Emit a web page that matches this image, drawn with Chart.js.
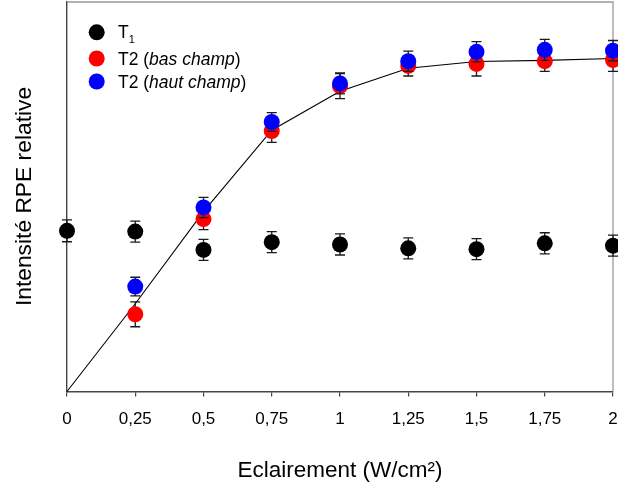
<!DOCTYPE html>
<html>
<head>
<meta charset="utf-8">
<script src="https://cdn.jsdelivr.net/npm/chart.js@4.4.0/dist/chart.umd.min.js"></script>
<style>
html,body{margin:0;padding:0;background:#fff;}
#wrap{width:618px;height:489px;position:relative;}
</style>
</head>
<body>
<div id="wrap"><canvas id="c" width="618" height="489"></canvas></div>
<script>
// ---- data ----
const xValues = [0, 0.25, 0.5, 0.75, 1, 1.25, 1.5, 1.75, 2];
const xTickLabels = ['0', '0,25', '0,5', '0,75', '1', '1,25', '1,5', '1,75', '2'];

const t1Values = [0.412, 0.410, 0.363, 0.383, 0.377, 0.367, 0.365, 0.380, 0.374];
const t1Errors = [0.028, 0.027, 0.027, 0.027, 0.027, 0.027, 0.027, 0.027, 0.027];

const t2LowX = [0.25, 0.5, 0.75, 1, 1.25, 1.5, 1.75, 2];
const t2LowValues = [0.198, 0.442, 0.668, 0.783, 0.835, 0.840, 0.847, 0.850];
const t2LowErrors = [0.032, 0.027, 0.029, 0.032, 0.026, 0.031, 0.026, 0.029];

const t2HighX = [0.25, 0.5, 0.75, 1, 1.25, 1.5, 1.75, 2];
const t2HighValues = [0.269, 0.472, 0.691, 0.790, 0.847, 0.871, 0.876, 0.874];
const t2HighErrors = [0.024, 0.026, 0.024, 0.027, 0.026, 0.026, 0.027, 0.026];

const fitValues = [0, 0.225, 0.461, 0.670, 0.770, 0.829, 0.846, 0.849, 0.854];

const xTitle = 'Eclairement (W/cm²)';
const yTitle = 'Intensité RPE relative';

const FONT = '"Liberation Sans", Arial, Helvetica, sans-serif';

function pts(xs, ys) { return xs.map((x, i) => ({x: x, y: ys[i]})); }

// error bars drawn under each dataset's markers
const errorBarPlugin = {
  id: 'errbars',
  beforeDatasetDraw(chart, args) {
    const ds = chart.data.datasets[args.index];
    if (!ds.errors) return;
    const ys = chart.scales.y;
    const ctx = chart.ctx;
    ctx.save();
    ctx.strokeStyle = '#1a1a1a';
    ctx.lineWidth = 1.3;
    args.meta.data.forEach((el, i) => {
      const v = ds.data[i].y, e = ds.errors[i];
      const x = el.x;
      const yt = ys.getPixelForValue(v + e);
      const yb = ys.getPixelForValue(v - e);
      ctx.beginPath();
      ctx.moveTo(x, yt); ctx.lineTo(x, yb);
      ctx.moveTo(x - 5, yt); ctx.lineTo(x + 5, yt);
      ctx.moveTo(x - 5, yb); ctx.lineTo(x + 5, yb);
      ctx.stroke();
    });
    ctx.restore();
  }
};

// grey frame on top and right
const framePlugin = {
  id: 'frame',
  beforeDatasetsDraw(chart) {
    const a = chart.chartArea, ctx = chart.ctx;
    ctx.save();
    ctx.strokeStyle = '#9a9a9a';
    ctx.lineWidth = 1.3;
    ctx.beginPath();
    ctx.moveTo(a.left, a.top + 0.5);
    ctx.lineTo(a.right, a.top + 0.5);
    ctx.lineTo(a.right, a.bottom);
    ctx.stroke();
    ctx.restore();
  }
};

// legend inside plot, with subscript and italics
const legendPlugin = {
  id: 'customLegend',
  afterDatasetsDraw(chart) {
    const a = chart.chartArea, ctx = chart.ctx;
    const cx = a.left + 29.7, tx = a.left + 51;
    const rows = [
      {y: a.top + 30.8, color: '#000000', parts: [['T', 'normal', 17.5, 0], ['1', 'normal', 11, 5]]},
      {y: a.top + 57, color: '#ff0000', parts: [['T2 (', 'normal', 17.5, 0], ['bas champ', 'italic', 17.5, 0], [')', 'normal', 17.5, 0]]},
      {y: a.top + 80, color: '#0000ff', parts: [['T2 (', 'normal', 17.5, 0], ['haut champ', 'italic', 17.5, 0], [')', 'normal', 17.5, 0]]}
    ];
    ctx.save();
    rows.forEach(r => {
      ctx.beginPath();
      ctx.fillStyle = r.color;
      ctx.arc(cx, r.y, 8, 0, Math.PI * 2);
      ctx.fill();
      let x = tx;
      ctx.fillStyle = '#000';
      ctx.textBaseline = 'alphabetic';
      r.parts.forEach(p => {
        ctx.font = p[1] + ' ' + p[2] + 'px ' + FONT;
        ctx.fillText(p[0], x, r.y + 6 + p[3]);
        x += ctx.measureText(p[0]).width;
      });
    });
    ctx.restore();
  }
};

new Chart(document.getElementById('c'), {
  type: 'scatter',
  data: {
    datasets: [
      {
        label: 'T2 (haut champ)',
        data: pts(t2HighX, t2HighValues),
        errors: t2HighErrors,
        backgroundColor: '#0000ff', borderColor: '#0000ff', borderWidth: 0,
        pointRadius: 8, pointHoverRadius: 8, order: 0, clip: false
      },
      {
        label: 'T2 (bas champ)',
        data: pts(t2LowX, t2LowValues),
        errors: t2LowErrors,
        backgroundColor: '#ff0000', borderColor: '#ff0000', borderWidth: 0,
        pointRadius: 8, pointHoverRadius: 8, order: 1, clip: false
      },
      {
        label: 'T1',
        data: pts(xValues, t1Values),
        errors: t1Errors,
        backgroundColor: '#000000', borderColor: '#000000', borderWidth: 0,
        pointRadius: 8, pointHoverRadius: 8, order: 2, clip: false
      },
      {
        label: 'fit',
        data: pts(xValues, fitValues),
        showLine: true, borderColor: '#000000', borderWidth: 1.1,
        pointRadius: 0, tension: 0, fill: false, order: 3, clip: false
      }
    ]
  },
  options: {
    responsive: false,
    animation: false,
    devicePixelRatio: 1,
    layout: {autoPadding: false, padding: {top: 1.5, right: 5, left: 0, bottom: 0}},
    plugins: {legend: {display: false}, tooltip: {enabled: false}},
    scales: {
      x: {
        type: 'linear', min: 0, max: 2,
        afterBuildTicks: s => { s.ticks = xValues.map(v => ({value: v})); },
        afterFit: s => { s.height = 97.5; s.paddingLeft = 0; s.paddingRight = 0; },
        ticks: {
          autoSkip: false, maxRotation: 0, padding: 12.5, color: '#000',
          font: {family: FONT, size: 17},
          callback: (v, i) => xTickLabels[i]
        },
        grid: {display: true, drawOnChartArea: false, drawTicks: true, tickLength: 5, color: '#444', lineWidth: 1.2},
        border: {display: true, color: '#444', width: 1.4},
        title: {display: true, text: xTitle, color: '#000', font: {family: FONT, size: 22.5}, padding: {top: 0, bottom: 4.5}}
      },
      y: {
        type: 'linear', min: 0, max: 1,
        afterFit: s => { s.width = 67; s.paddingTop = 0; s.paddingBottom = 0; },
        ticks: {display: false},
        grid: {display: false},
        border: {display: true, color: '#444', width: 1.4},
        title: {display: true, text: yTitle, color: '#000', font: {family: FONT, size: 22.8}, padding: {top: 11.5, bottom: 0}}
      }
    }
  },
  plugins: [errorBarPlugin, framePlugin, legendPlugin]
});
</script>
</body>
</html>
